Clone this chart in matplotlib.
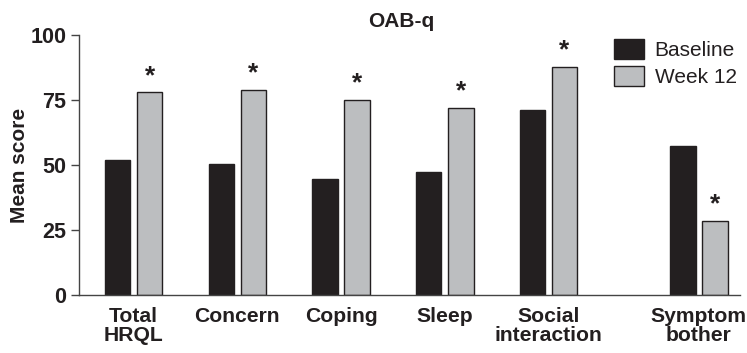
import matplotlib
matplotlib.use("Agg")
import matplotlib.pyplot as plt
import numpy as np

categories = ["Total\nHRQL", "Concern", "Coping", "Sleep", "Social\ninteraction", "Symptom\nbother"]
baseline = [52.0, 50.5, 44.6, 47.3, 71.2, 57.3]
week12 = [78.0, 79.0, 75.2, 72.1, 87.8, 28.5]
significant = [True, True, True, True, True, True]
series_names = ["Baseline", "Week 12"]
yticks = [0, 25, 50, 75, 100]

plt.rcParams['font.family'] = ['Liberation Sans', 'DejaVu Sans']

fig = plt.figure(figsize=(7.47, 3.53), dpi=100)
ax = fig.add_axes([79/747, 1 - 294.7/353, (740 - 79)/747, (294.7 - 35.3)/353])

pos = np.array([0, 1, 2, 3, 4, 5.45]) * 1.0
w = 0.246
off = 0.155
dark = "#231f20"
light = "#bcbec0"
ax.bar(pos - off, baseline, w, color=dark, edgecolor=dark, linewidth=1, label=series_names[0])
ax.bar(pos + off, week12, w, color=light, edgecolor=dark, linewidth=1, label=series_names[1])

for p, v, s in zip(pos, week12, significant):
    if s:
        ax.annotate("*", (p + off, v), xytext=(0, 3), textcoords="offset points",
                    ha="center", va="bottom", fontsize=19, fontweight="bold", color=dark)

ax.set_xlim(-0.527, 5.847)
ax.set_ylim(0, 100)
ax.set_yticks(yticks)
ax.set_yticklabels([str(t) for t in yticks], fontsize=15.5, fontweight="bold", color=dark)
ax.set_xticks(pos)
ax.set_xticklabels(categories, fontsize=15.2, fontweight="bold", color=dark, linespacing=1.0)
ax.tick_params(axis="x", length=0, pad=9)
ax.tick_params(axis="y", length=6, width=1, color="#444444", pad=3)
for sp in ["top", "right"]:
    ax.spines[sp].set_visible(False)
for sp in ["left", "bottom"]:
    ax.spines[sp].set_color("#444444")
    ax.spines[sp].set_linewidth(1)
ax.set_ylabel("Mean score", fontsize=15, fontweight="bold", color=dark, labelpad=1)
ax.set_title("OAB-q", fontsize=15, fontweight="bold", color=dark, pad=6, x=(401 - 79) / (740 - 79))

leg = ax.legend(loc="upper left", bbox_to_anchor=(614/747, 1 - 39/353), bbox_transform=fig.transFigure,
                frameon=False, fontsize=15, handlelength=1.45, handleheight=1.1,
                handletextpad=0.5, labelspacing=0.3, borderaxespad=0, borderpad=0)
for t in leg.get_texts():
    t.set_color(dark)

fig.savefig("out.png", dpi=100)
